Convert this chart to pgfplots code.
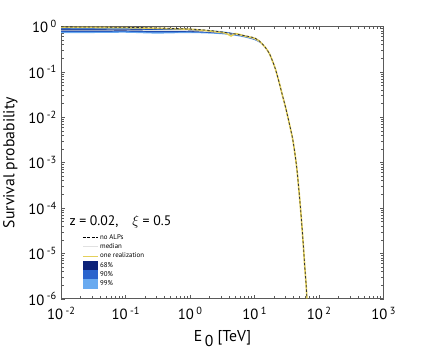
\documentclass[border=0pt]{standalone}
\usepackage{pgfplots}
\pgfplotsset{compat=1.18}
\usepgfplotslibrary{fillbetween}
\usepackage{fontspec}
\setmainfont{PT Sans}

\definecolor{c68}{RGB}{12,34,120}
\definecolor{c90}{RGB}{42,100,205}
\definecolor{c99}{RGB}{105,170,240}
\definecolor{creal}{RGB}{228,208,90}
\definecolor{cmed}{RGB}{225,225,225}
\definecolor{axgray}{RGB}{90,90,90}

% no ALPs (upper part) and common tail
\pgfplotstableread{
E P
0.01 0.985
0.03 0.978
0.1 0.962
0.3 0.93
1 0.88
2 0.82
4 0.72
7 0.63
10 0.56
12 0.47
13.2 0.41
15 0.33
17 0.25
19 0.17
21 0.115
24 0.058
27 0.03
30 0.017
33 0.0095
36 0.0055
39 0.0032
42 0.0016
45 0.00075
48 0.00029
51 0.00011
54 0.00004
57 0.000014
60 0.0000047
62.5 0.0000022
64.5 0.000001
}\noalp

% one realization
\pgfplotstableread{
E P
0.01 0.96
0.03 0.955
0.1 0.945
0.3 0.915
1 0.87
2 0.80
3.5 0.72
4.3 0.62
5 0.70
7 0.62
10 0.55
12 0.47
13.2 0.41
15 0.33
17 0.25
19 0.17
21 0.115
24 0.058
27 0.03
30 0.017
33 0.0095
36 0.0055
39 0.0032
42 0.0016
45 0.00075
48 0.00029
51 0.00011
54 0.00004
57 0.000014
60 0.0000047
62.5 0.0000022
64.5 0.000001
}\real

% median
\pgfplotstableread{
E P
0.01 0.83
0.03 0.83
0.1 0.835
0.3 0.815
1 0.81
3 0.735
6 0.645
10 0.53
13.2 0.41
}\median

% bands: E, 99 up, 99 lo, 90 up, 90 lo, 68 up, 68 lo
\pgfplotstableread{
E u99 l99 u90 l90 u68 l68
0.01 0.95 0.72 0.92 0.76 0.87 0.79
0.03 0.95 0.72 0.91 0.76 0.87 0.79
0.1 0.93 0.73 0.90 0.77 0.87 0.80
0.3 0.92 0.70 0.89 0.74 0.85 0.78
1 0.88 0.72 0.86 0.75 0.83 0.78
3 0.79 0.68 0.77 0.70 0.75 0.72
6 0.67 0.60 0.66 0.62 0.65 0.63
10 0.55 0.50 0.54 0.51 0.535 0.52
13.2 0.415 0.405 0.413 0.407 0.411 0.409
}\bands

\begin{document}
\begin{tikzpicture}
\begin{axis}[
    scale only axis,
    width=328pt, height=277pt,
    xmode=log, ymode=log,
    xmin=1e-2, xmax=1e3,
    ymin=1e-6, ymax=1,
    axis line style={axgray, line width=0.9pt},
    tick style={axgray, line width=0.6pt},
    major tick length=4pt,
    minor tick length=2.5pt,
    tick align=inside,
    xtick={1e-2,1e-1,1,1e1,1e2,1e3},
    xticklabels={10\,\textsuperscript{-2},10\,\textsuperscript{-1},10\,\textsuperscript{0},10\,\textsuperscript{1},10\,\textsuperscript{2},10\,\textsuperscript{3}},
    ytick={1e-6,1e-5,1e-4,1e-3,1e-2,1e-1,1},
    yticklabels={10\,\textsuperscript{-6},10\,\textsuperscript{-5},10\,\textsuperscript{-4},10\,\textsuperscript{-3},10\,\textsuperscript{-2},10\,\textsuperscript{-1},10\,\textsuperscript{0}},
    ticklabel style={font=\fontsize{15}{17}\selectfont},
    xticklabel style={yshift=-5pt},
    yticklabel style={xshift=-1pt},
    xlabel={E\,\raisebox{-5pt}{0} [TeV]},
    ylabel={Survival probability},
    label style={font=\fontsize{16}{18}\selectfont},
    xlabel style={yshift=-4pt},
    ylabel style={yshift=4pt},
    legend style={at={(rel axis cs:0.065,0.245)}, anchor=north west,
        draw=none, fill=none, inner sep=0pt, row sep=-1pt,
        font=\fontsize{7}{8}\selectfont},
    legend cell align=left,
]
\addplot[name path=u99, draw=none, forget plot, smooth] table[x=E, y=u99] {\bands};
\addplot[name path=l99, draw=none, forget plot, smooth] table[x=E, y=l99] {\bands};
\addplot[name path=u90, draw=none, forget plot, smooth] table[x=E, y=u90] {\bands};
\addplot[name path=l90, draw=none, forget plot, smooth] table[x=E, y=l90] {\bands};
\addplot[name path=u68, draw=none, forget plot, smooth] table[x=E, y=u68] {\bands};
\addplot[name path=l68, draw=none, forget plot, smooth] table[x=E, y=l68] {\bands};
\addplot[c99, forget plot] fill between[of=u99 and l99];
\addplot[c90, forget plot] fill between[of=u90 and l90];
\addplot[c68, forget plot] fill between[of=u68 and l68];

\addplot[cmed, line width=0.8pt, forget plot, smooth] table[x=E, y=P] {\median};
\addplot[creal, line width=1.6pt, forget plot, smooth, tension=0.4] table[x=E, y=P] {\real};
\addplot[black!80, line width=0.8pt, dash pattern=on 2.5pt off 2pt, forget plot, smooth, tension=0.4] table[x=E, y=P] {\noalp};

\addlegendimage{legend image code/.code={\draw[black, line width=1.1pt, dash pattern=on 3pt off 1.5pt] (0pt,0pt) -- (15pt,0pt);}}
\addlegendentry{no ALPs}
\addlegendimage{legend image code/.code={\draw[cmed, line width=0.8pt] (0pt,0pt) -- (15pt,0pt);}}
\addlegendentry{median}
\addlegendimage{legend image code/.code={\draw[creal, line width=0.8pt] (0pt,0pt) -- (15pt,0pt);}}
\addlegendentry{one realization}
\addlegendimage{legend image code/.code={\fill[c68] (0pt,-4.5pt) rectangle (15pt,4.5pt);}}
\addlegendentry{68\%}
\addlegendimage{legend image code/.code={\fill[c90] (0pt,-4.5pt) rectangle (15pt,4.5pt);}}
\addlegendentry{90\%}
\addlegendimage{legend image code/.code={\fill[c99] (0pt,-4.5pt) rectangle (15pt,4.5pt);}}
\addlegendentry{99\%}

\node[anchor=west, font=\fontsize{14}{16}\selectfont] at (rel axis cs:0.015,0.282) {z = 0.02,\quad $\xi$ = 0.5};
\end{axis}
\path ([xshift=-55pt,yshift=-57pt]current axis.south west) rectangle ([xshift=41pt,yshift=27pt]current axis.north east);
\end{tikzpicture}
\end{document}
